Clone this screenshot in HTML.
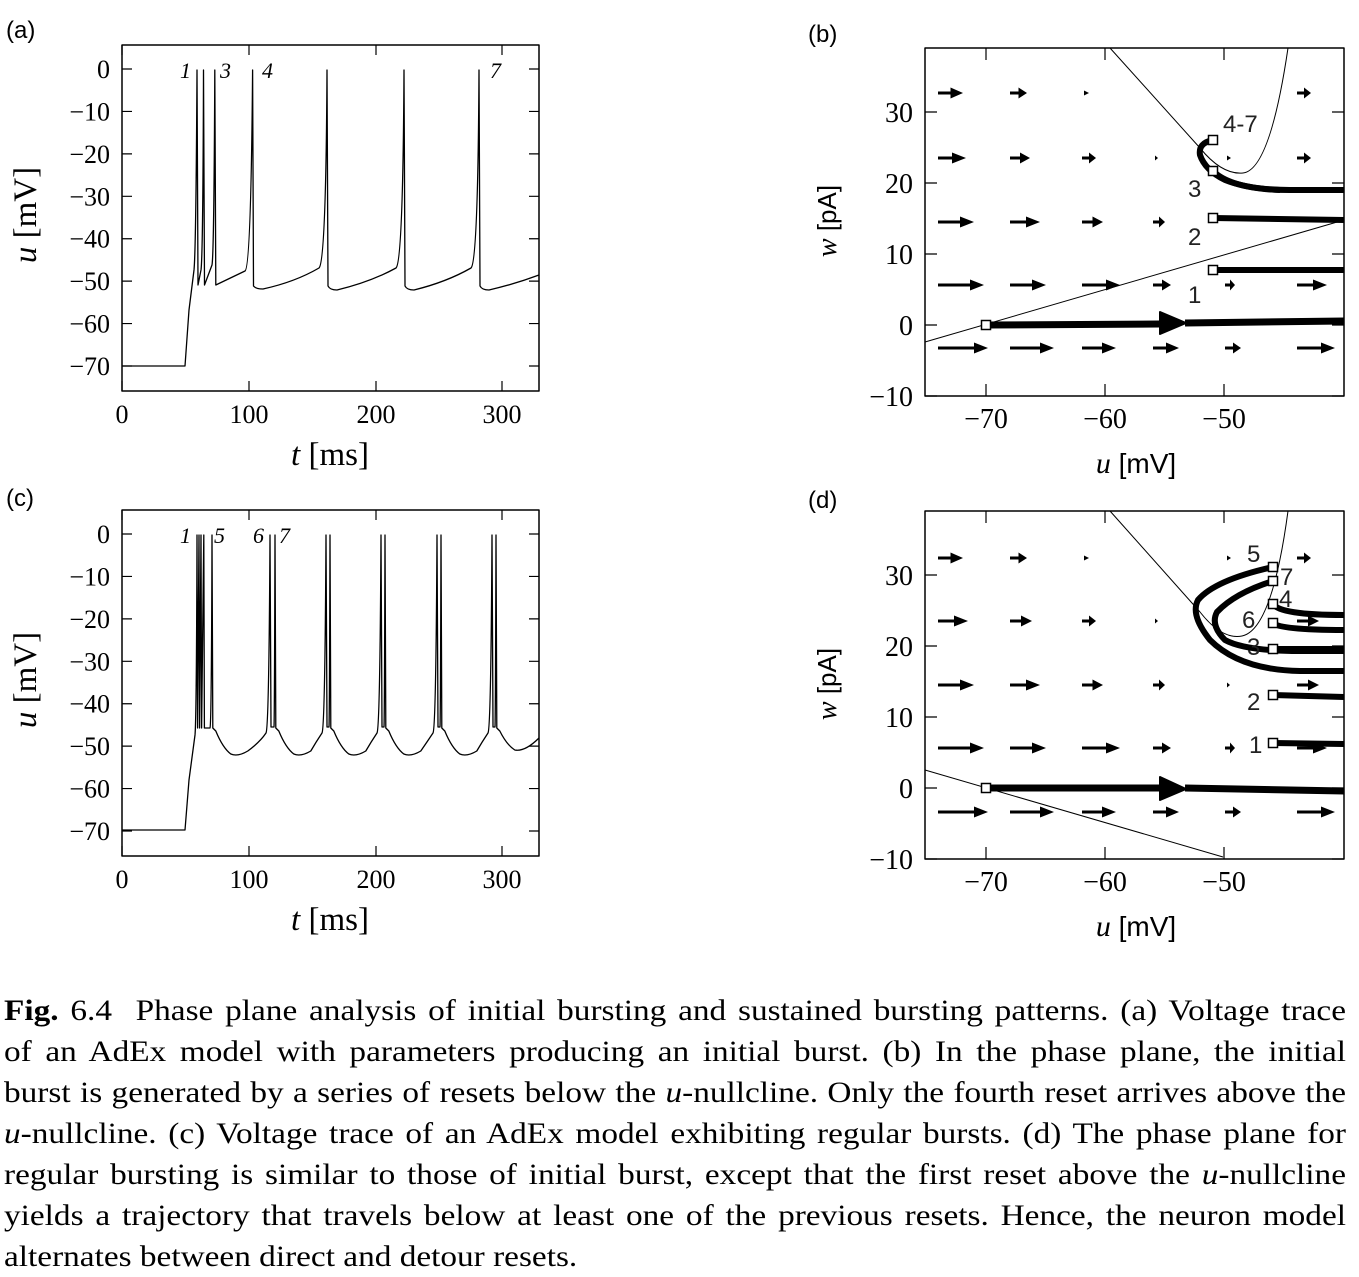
<!DOCTYPE html>
<html><head><meta charset="utf-8"><style>
body{margin:0;background:#fff;width:1359px;height:1270px;overflow:hidden;position:relative}
svg{position:absolute;left:0;top:0}
.cap{position:absolute;left:4px;top:990px;width:1209px;font-family:"Liberation Serif",serif;font-size:30px;line-height:41px;color:#000;transform:scaleX(1.11);transform-origin:0 0}
.cap div{text-align:justify;text-align-last:justify;white-space:nowrap}
.cap div.l{text-align-last:left}
</style></head><body>
<svg id="s" width="1359" height="990" xmlns="http://www.w3.org/2000/svg" font-family="Liberation Serif, serif">
<g font-family="Liberation Sans, sans-serif" font-size="24">
<text x="6" y="38">(a)</text><text x="808" y="42">(b)</text>
<text x="6" y="506">(c)</text><text x="808" y="508">(d)</text>
</g>
<g id="g"></g>
</svg>
<div class="cap">
<div><b>Fig.</b> 6.4&nbsp; Phase plane analysis of initial bursting and sustained bursting patterns. (a) Voltage trace</div>
<div>of an AdEx model with parameters producing an initial burst. (b) In the phase plane, the initial</div>
<div>burst is generated by a series of resets below the <i>u</i>-nullcline. Only the fourth reset arrives above the</div>
<div><i>u</i>-nullcline. (c) Voltage trace of an AdEx model exhibiting regular bursts. (d) The phase plane for</div>
<div>regular bursting is similar to those of initial burst, except that the first reset above the <i>u</i>-nullcline</div>
<div>yields a trajectory that travels below at least one of the previous resets. Hence, the neuron model</div>
<div class="l">alternates between direct and detour resets.</div>
</div>
<script>
var h='';
function P(d,w,f){h+='<path d="'+d+'" fill="'+(f||'none')+'" stroke="#000" stroke-width="'+w+'" stroke-linejoin="round" stroke-linecap="butt"/>';}
function T(x,y,s,o){h+='<text x="'+x+'" y="'+y+'" '+(o||'')+'>'+s+'</text>';}
function vpanel(top){
 var y0=top+24;
 P('M122 '+top+'H539V'+(top+346)+'H122Z',1.5);
 for(var i=0;i<=7;i++){var y=y0+i*42.43;P('M122 '+y+'h10M539 '+y+'h-10',1.2);
  T(110,y+9,i==0?'0':'\u2212'+(i*10),'text-anchor="end" font-size="26"');}
 var xs=[122,249,376,502];
 for(var j=0;j<4;j++){P('M'+xs[j]+' '+(top+346)+'v-10M'+xs[j]+' '+top+'v10',1.2);T(xs[j],top+378,j*100,'text-anchor="middle" font-size="26"');}
 T(330,top+420,'<tspan font-style="italic">t</tspan> [ms]','text-anchor="middle" font-size="33"');
 T(36,top+170,'<tspan font-style="italic">u</tspan> [mV]','text-anchor="middle" font-size="33" transform="rotate(-90 36 '+(top+170)+')"');
}
vpanel(45);vpanel(510);
var d='M122 366H185L189 310L194 270Q196 250 197 70L198 285L201 270Q203 255 203.5 70L204.5 285L212 265Q214 255 214.8 70L215.8 285L245 271Q251 268 252.6 70L253.5 286Q256 289 263 289';
var sp=[327,404,479];var prev=263;
for(var k=0;k<sp.length;k++){var s=sp[k];d+='Q'+((prev+s)/2)+' 282 '+(s-8)+' 268Q'+(s-1)+' 262 '+s+' 70L'+(s+1)+' 286Q'+(s+3)+' 290 '+(s+10)+' 290';prev=s+10;}
d+='Q515 284 539 275';P(d,1.3);
T(180,78,'1','font-style="italic" font-size="22"');T(220,78,'3','font-style="italic" font-size="22"');T(262,78,'4','font-style="italic" font-size="22"');T(490,78,'7','font-style="italic" font-size="22"');
var d='M122 830H185L189 780L195 735Q196.5 720 197 535L197.6 728L199 535L199.6 728L201 535L201.6 728L203.8 535L204.4 728L210 728Q211.5 725 212 535L212.8 728';
var bursts=[[270,275],[326,330],[381,385],[437,441],[492,496]];var last=212.8;
for(var k=0;k<bursts.length;k++){var a=bursts[k][0],b=bursts[k][1];
 d+='L'+(last+3)+' 731Q'+(last+10)+' 748 '+(last+18)+' 754Q'+(last+25)+' 757 '+(last+35)+' 751Q'+(a-10)+' 742 '+(a-4)+' 733Q'+(a-1)+' 728 '+a+' 535L'+(a+1)+' 727L'+(b-1)+' 727Q'+(b-0.5)+' 720 '+b+' 535L'+(b+0.8)+' 728';last=b+0.8;}
d+='L'+(last+3)+' 731Q'+(last+10)+' 745 '+(last+18)+' 750Q'+(last+28)+' 752 539 738';P(d,1.3);
T(180,543,'1','font-style="italic" font-size="22"');T(214,543,'5','font-style="italic" font-size="22"');T(253,543,'6','font-style="italic" font-size="22"');T(279,543,'7','font-style="italic" font-size="22"');
function ppanel(top,zero){
 P('M925 '+top+'H1344V'+(top+348)+'H925Z',1.5);
 for(var i=-1;i<=3;i++){var y=zero-i*71;P('M925 '+y+'h12M1344 '+y+'h-12',1.2);
  T(913,y+10,i<0?'\u221210':(i*10),'text-anchor="end" font-size="28"');}
 var xs=[986,1105,1224];var lb=['\u221270','\u221260','\u221250'];
 for(var j=0;j<3;j++){P('M'+xs[j]+' '+(top+348)+'v-12M'+xs[j]+' '+top+'v12',1.2);T(xs[j],top+380,lb[j],'text-anchor="middle" font-size="28"');}
 T(1136,top+425,'<tspan font-style="italic">u</tspan><tspan font-family="Liberation Sans, sans-serif" font-size="28"> [mV]</tspan>','text-anchor="middle" font-size="30"');
 T(836,top+173,'<tspan font-style="italic">w</tspan><tspan font-family="Liberation Sans, sans-serif" font-size="26"> [pA]</tspan>','text-anchor="middle" font-size="28" transform="rotate(-90 836 '+(top+173)+')"');
}
function arrow(x,y,len){var hl=Math.min(14,len*0.5);P('M'+x+' '+y+'h'+(len-hl),3);h+='<path d="M'+(x+len)+' '+y+'l-'+hl+' -5.5v11z" fill="#000"/>';}
function field(rows,lens){var cols=[938,1010,1082,1153,1225,1297];for(var r=0;r<rows.length;r++)for(var c=0;c<6;c++){var L=lens[r][c];if(L>=6)arrow(cols[c],rows[r],L);else if(L>0){h+='<path d="M'+(cols[c]+L+4)+' '+rows[r]+'l-'+(L+2)+' -2.5v5z" fill="#000"/>';}}}
function sq(x,y){h+='<rect x="'+(x-4.5)+'" y="'+(y-4.5)+'" width="9" height="9" fill="#fff" stroke="#000" stroke-width="1.5"/>';}
ppanel(48,325);ppanel(511,788);
field([93,158,222,285,348],[[25,17,3,0,0,14],[28,20,14,1,2,14],[36,30,21,12,0,0],[46,36,38,18,10,30],[50,44,34,26,16,38]]);
P('M925 342L1344 220',1);
P('M1110 48L1200 148Q1222 175 1243 173Q1270 170 1288 48',1);
P('M986 325L1160 324M1185 323L1344 321',7);h+='<path d="M1160 312L1186 323L1160 334Z" fill="#000" stroke="#000" stroke-width="2" stroke-linejoin="round"/>';
P('M1213 140Q1198 143 1200 155Q1205 170 1225 180Q1250 190 1290 190H1344',6);
P('M1213 171Q1230 188 1280 190',6);
P('M1213 218L1344 220',6);P('M1213 270H1344',6);
sq(986,325);sq(1213,140);sq(1213,171);sq(1213,218);sq(1213,270);
h+='<g font-family="Liberation Sans, sans-serif" font-size="24" fill="#222">';
T(1223,132,'4-7');T(1188,197,'3');T(1188,245,'2');T(1188,303,'1');h+='</g>';
field([558,621,685,748,812],[[25,17,3,0,2,14],[30,22,14,1,0,22],[36,30,21,12,1,22],[46,36,38,18,10,30],[50,44,34,26,16,38]]);
P('M925 770L1223 857',1);
P('M1110 511L1200 612Q1222 640 1242 636Q1272 630 1288 511',1);
P('M986 788L1160 788M1185 788L1344 791',7);h+='<path d="M1160 777L1186 789L1160 800Z" fill="#000" stroke="#000" stroke-width="2" stroke-linejoin="round"/>';
P('M1273 567Q1215 580 1198 600Q1190 615 1210 640Q1240 670 1300 671H1344',6);
P('M1273 581Q1235 593 1217 612Q1210 625 1225 640Q1245 651 1300 651H1344',6);
P('M1273 604Q1280 615 1344 615',6);P('M1273 623Q1280 630 1344 630',6);
P('M1273 649H1344',6);P('M1273 695L1344 697',6);P('M1273 743L1344 744',6);
sq(986,788);[567,581,604,623,649,695,743].forEach(function(y){sq(1273,y);});
h+='<g font-family="Liberation Sans, sans-serif" font-size="24" fill="#222">';
T(1247,562,'5');T(1280,585,'7');T(1279,607,'4');T(1242,628,'6');T(1247,655,'3');T(1247,710,'2');T(1249,753,'1');h+='</g>';
document.getElementById('g').innerHTML=h;
</script>
</body></html>
